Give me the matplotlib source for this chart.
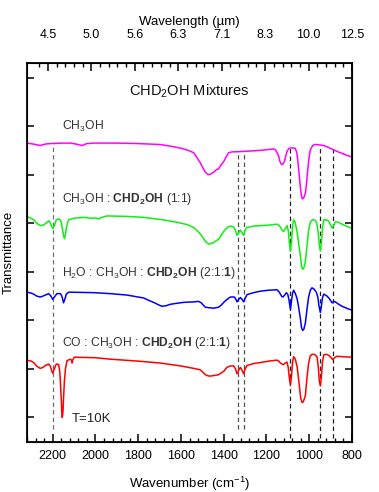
import numpy as np
import matplotlib
matplotlib.use("Agg")
import matplotlib.pyplot as plt
from matplotlib.ticker import MultipleLocator, FixedLocator, NullFormatter

plt.rcParams['font.family'] = ['Liberation Sans', 'DejaVu Sans']
plt.rcParams['mathtext.fontset'] = 'custom'
plt.rcParams['mathtext.rm'] = 'Liberation Sans'
plt.rcParams['mathtext.it'] = 'Liberation Sans:italic'
plt.rcParams['mathtext.bf'] = 'Liberation Sans:bold'

# ---------------- data (wavenumber cm-1, offset transmittance) ----------------
wn_ch3oh = [2320, 2290, 2258, 2235, 2211, 2150, 2117, 2090, 2063, 2040, 2008, 1900, 1800, 1696, 1640,
            1587, 1560, 1540, 1525, 1509, 1495, 1486, 1475, 1466, 1455, 1447, 1435, 1424, 1412, 1400,
            1388, 1377, 1360, 1346, 1300, 1229, 1185, 1166, 1158, 1150, 1143, 1137, 1130, 1123, 1116,
            1110, 1104, 1095, 1088, 1075, 1065, 1058, 1054, 1048, 1042, 1036, 1032, 1026, 1018, 1012,
            1007, 1001, 995, 985, 975, 964, 950, 932, 910, 886, 860, 830, 800]
tr_ch3oh = [6.15, 6.13, 6.10, 6.13, 6.14, 6.15, 6.15, 6.13, 6.10, 6.14, 6.15, 6.15, 6.14, 6.12, 6.08,
            6.03, 5.99, 5.95, 5.85, 5.74, 5.62, 5.55, 5.51, 5.50, 5.53, 5.55, 5.60, 5.62, 5.70, 5.77,
            5.87, 5.95, 5.97, 5.97, 5.98, 6.00, 6.02, 6.03, 6.01, 5.95, 5.88, 5.77, 5.71, 5.72, 5.77,
            5.88, 5.98, 6.04, 6.05, 6.05, 6.04, 5.95, 5.81, 5.55, 5.26, 5.05, 5.00, 5.02, 5.12, 5.35,
            5.60, 5.85, 6.01, 6.09, 6.12, 6.12, 6.11, 6.10, 6.06, 6.01, 5.96, 5.91, 5.86]

wn_mix11 = [2320, 2305, 2289, 2275, 2258, 2245, 2234, 2219, 2210, 2205, 2198, 2192, 2183, 2169, 2160,
            2156, 2150, 2145, 2140, 2136, 2130, 2125, 2102, 2080, 2055, 2035, 2024, 2000, 1985, 1970,
            1946, 1850, 1774, 1700, 1618, 1570, 1540, 1520, 1501, 1485, 1470, 1460, 1447, 1435, 1424,
            1412, 1400, 1388, 1377, 1365, 1353, 1345, 1338, 1330, 1322, 1314, 1307, 1300, 1294, 1260,
            1229, 1190, 1151, 1140, 1135, 1128, 1120, 1112, 1104, 1098, 1093, 1088, 1083, 1078, 1073,
            1066, 1057, 1050, 1042, 1036, 1031, 1025, 1018, 1010, 1003, 995, 985, 979, 970, 964,
            958, 953, 948, 943, 938, 932, 920, 909, 900, 893, 886, 878, 865, 847, 820, 800]
tr_mix11 = [4.64, 4.61, 4.57, 4.50, 4.45, 4.46, 4.49, 4.55, 4.50, 4.43, 4.39, 4.45, 4.57, 4.59, 4.53,
            4.42, 4.27, 4.18, 4.27, 4.40, 4.52, 4.57, 4.60, 4.61, 4.62, 4.61, 4.60, 4.61, 4.59, 4.62,
            4.65, 4.64, 4.62, 4.58, 4.52, 4.47, 4.41, 4.33, 4.23, 4.12, 4.07, 4.08, 4.10, 4.14, 4.17,
            4.25, 4.33, 4.39, 4.43, 4.44, 4.42, 4.35, 4.25, 4.30, 4.36, 4.30, 4.25, 4.35, 4.41, 4.44,
            4.45, 4.46, 4.48, 4.45, 4.42, 4.36, 4.33, 4.38, 4.45, 4.35, 4.10, 3.92, 4.10, 4.45, 4.57,
            4.52, 4.33, 4.10, 3.85, 3.62, 3.55, 3.58, 3.71, 4.05, 4.35, 4.52, 4.57, 4.57, 4.55, 4.48,
            4.30, 4.05, 3.93, 4.10, 4.40, 4.57, 4.57, 4.54, 4.46, 4.40, 4.45, 4.53, 4.52, 4.48, 4.43, 4.39]

wn_h2o = [2320, 2300, 2289, 2275, 2258, 2245, 2234, 2219, 2208, 2200, 2192, 2180, 2164, 2157, 2149,
          2142, 2136, 2125, 2008, 1930, 1852, 1800, 1774, 1750, 1728, 1705, 1689, 1670, 1650, 1620,
          1587, 1540, 1517, 1505, 1497, 1486, 1470, 1447, 1424, 1410, 1400, 1385, 1369, 1350, 1344,
          1338, 1330, 1322, 1314, 1307, 1300, 1291, 1260, 1229, 1190, 1151, 1140, 1135, 1128, 1123,
          1115, 1107, 1100, 1094, 1088, 1083, 1078, 1073, 1065, 1057, 1050, 1042, 1036, 1031, 1025,
          1018, 1010, 1003, 995, 987, 977, 967, 960, 954, 948, 943, 938, 932, 917, 905, 893, 885,
          878, 862, 847, 820, 800]
tr_h2o = [3.08, 3.06, 3.04, 3.00, 2.98, 3.00, 3.02, 3.05, 3.00, 2.93, 2.98, 3.05, 3.05, 3.00, 2.86,
          2.95, 3.04, 3.08, 3.07, 3.05, 3.02, 2.98, 2.96, 2.91, 2.87, 2.82, 2.79, 2.80, 2.83, 2.85,
          2.87, 2.88, 2.89, 2.86, 2.82, 2.77, 2.76, 2.75, 2.77, 2.82, 2.87, 2.93, 2.98, 2.98, 2.94,
          2.88, 2.93, 2.97, 2.93, 2.88, 2.95, 3.03, 3.07, 3.10, 3.12, 3.13, 3.08, 3.04, 2.99, 2.98,
          3.02, 3.07, 3.03, 2.90, 2.72, 2.90, 3.06, 3.12, 3.05, 2.95, 2.78, 2.55, 2.35, 2.29, 2.32,
          2.45, 2.75, 2.98, 3.12, 3.17, 3.14, 3.08, 2.98, 2.78, 2.66, 2.80, 2.97, 3.04, 3.00, 2.94, 2.86, 2.89,
          2.88, 2.83, 2.79, 2.74, 2.71]

wn_co = [2320, 2300, 2289, 2275, 2258, 2245, 2234, 2219, 2210, 2205, 2200, 2194, 2183, 2172, 2167,
         2164, 2160, 2157, 2155, 2152, 2149, 2145, 2140, 2133, 2117, 2112, 2109, 2106, 2099, 2000,
         1930, 1800, 1696, 1600, 1540, 1509, 1495, 1486, 1475, 1466, 1450, 1424, 1400, 1385, 1370,
         1353, 1345, 1338, 1330, 1322, 1314, 1307, 1300, 1291, 1260, 1229, 1190, 1151, 1140, 1135,
         1128, 1120, 1112, 1104, 1098, 1093, 1088, 1083, 1078, 1073, 1065, 1057, 1050, 1045, 1040,
         1034, 1028, 1018, 1010, 1003, 995, 987, 976, 964, 958, 953, 948, 943, 938, 932, 920, 909,
         900, 890, 882, 870, 840, 800]
tr_co = [1.68, 1.66, 1.63, 1.56, 1.51, 1.53, 1.57, 1.60, 1.55, 1.47, 1.41, 1.48, 1.60, 1.59, 1.45,
         1.25, 0.90, 0.60, 0.50, 0.60, 0.90, 1.25, 1.50, 1.67, 1.70, 1.68, 1.62, 1.68, 1.74, 1.73,
         1.70, 1.66, 1.62, 1.56, 1.51, 1.48, 1.42, 1.38, 1.36, 1.35, 1.36, 1.38, 1.45, 1.53, 1.56,
         1.56, 1.50, 1.40, 1.47, 1.53, 1.47, 1.40, 1.49, 1.57, 1.61, 1.63, 1.66, 1.68, 1.65, 1.62,
         1.60, 1.59, 1.62, 1.64, 1.52, 1.30, 1.17, 1.35, 1.65, 1.75, 1.70, 1.55, 1.30, 1.10, 0.90,
         0.81, 0.82, 0.95, 1.35, 1.62, 1.77, 1.80, 1.80, 1.75, 1.55, 1.25, 1.15, 1.35, 1.65, 1.79, 1.80, 1.78,
         1.74, 1.69, 1.73, 1.76, 1.75, 1.74]

band_wn = [2200, 1334, 1306, 1088, 948, 890]
band_top = [6.12, 5.97, 5.97, 6.05, 6.10, 6.03]
band_bottom = [0.26, 0.26, 0.26, 0.08, 0.08, 0.08]
band_colors = ['#707070', '#505050', '#505050', '#202020', '#202020', '#202020']

wn_ticks = [2200, 2000, 1800, 1600, 1400, 1200, 1000, 800]
wl_labels = ['4.5', '5.0', '5.6', '6.3', '7.1', '8.3', '10.0', '12.5']

labels = [r'CH$_3$OH',
          r'CH$_3$OH : $\mathbf{CHD_2OH}$ (1:1)',
          r'H$_2$O : CH$_3$OH : $\mathbf{CHD_2OH}$ (2:1:$\mathbf{1}$)',
          r'CO : CH$_3$OH : $\mathbf{CHD_2OH}$ (2:1:$\mathbf{1}$)']
label_y = [6.50, 4.99, 3.47, 2.04]
colors = ['#FF00FF', '#11EE11', '#0000FF', '#FF0000']

# ---------------- figure ----------------
fig = plt.figure(figsize=(3.79, 4.92), dpi=100)
ax = fig.add_axes([0.0712, 0.1022, 0.8576, 0.7698])

series = [(wn_ch3oh, tr_ch3oh), (wn_mix11, tr_mix11), (wn_h2o, tr_h2o), (wn_co, tr_co)]
for (w, t), c in zip(series, colors):
    ax.plot(w, t, color=c, lw=1.1, solid_joinstyle='round')

for w, yt, yb, c in zip(band_wn, band_top, band_bottom, band_colors):
    ax.plot([w, w], [yb, yt], color=c, lw=0.9, ls=(0, (3.5, 2.5)), zorder=1)

for s, y in zip(labels, label_y):
    ax.text(2156, y, s, fontsize=8.7, color='#333333', va='center', ha='left')

ax.text(2110, 0.46, 'T=10K', fontsize=9.5, color='#222222', va='center', ha='left')
ax.text(0.5, 0.925, r'CHD$_2$OH Mixtures', transform=ax.transAxes, fontsize=10.5,
        ha='center', va='center', color='#111111')

ax.set_xlim(2320, 800)
ax.set_ylim(0, 7.8)
ax.xaxis.set_major_locator(FixedLocator(wn_ticks))
ax.xaxis.set_minor_locator(MultipleLocator(40))
ax.yaxis.set_major_locator(MultipleLocator(1.0, offset=0.5))
ax.yaxis.set_major_formatter(NullFormatter())
ax.tick_params(axis='x', which='major', direction='in', length=6, width=1.1, labelsize=9, pad=6)
ax.tick_params(axis='x', which='minor', direction='in', length=3, width=1.0)
ax.tick_params(axis='y', which='major', direction='in', length=5, width=1.1, left=True, right=True)
for sp in ax.spines.values():
    sp.set_linewidth(1.3)
ax.set_xlabel(r'Wavenumber (cm$^{-1}$)', fontsize=9.5, labelpad=9)
ax.set_ylabel('Transmittance', fontsize=9.5, labelpad=5)

# top axis: wavelength
ax2 = ax.twiny()
ax2.set_xlim(ax.get_xlim())
wl_vals = [float(v) for v in wl_labels]
top_pos = np.linspace(10000 / wl_vals[0], 10000 / wl_vals[-1], len(wl_vals))
ax2.xaxis.set_major_locator(FixedLocator(top_pos))
ax2.set_xticklabels(wl_labels)
step = (top_pos[0] - top_pos[1]) / 5
ax2.xaxis.set_minor_locator(FixedLocator(np.arange(top_pos[0] + step, 800 - 1, -step)))
ax2.tick_params(axis='x', which='major', direction='in', length=6, width=1.1, labelsize=9, pad=16)
ax2.tick_params(axis='x', which='minor', direction='in', length=3, width=1.0)
ax2.set_xlabel('Wavelength (µm)', fontsize=9.5, labelpad=3)

fig.savefig('out.png', dpi=100)
